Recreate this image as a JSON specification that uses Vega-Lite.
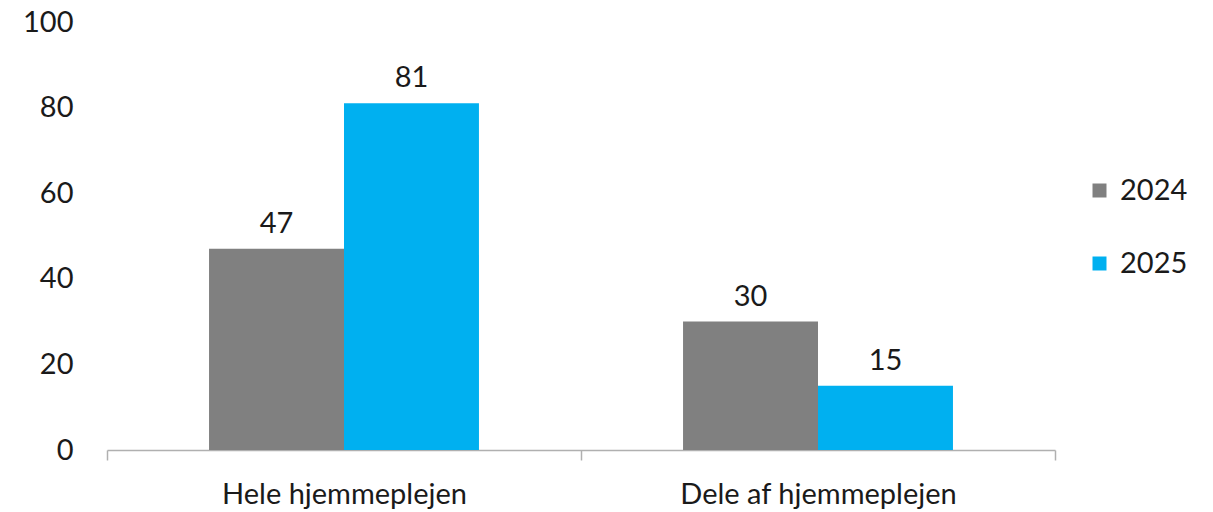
{
  "$schema": "https://vega.github.io/schema/vega-lite/v6.json",
  "width": 948,
  "height": 428,
  "autosize": "none",
  "padding": {"left": 107, "top": 22, "right": 158, "bottom": 62},
  "background": "white",
  "config": {"view": {"stroke": null}, "font": "Lato"},
  "data": {"values": [
    {"kategori": "Hele hjemmeplejen", "år": "2024", "andel": 47},
    {"kategori": "Hele hjemmeplejen", "år": "2025", "andel": 81},
    {"kategori": "Dele af hjemmeplejen", "år": "2024", "andel": 30},
    {"kategori": "Dele af hjemmeplejen", "år": "2025", "andel": 15}
  ]},
  "encoding": {
    "x": {"field": "kategori", "type": "nominal", "sort": ["Hele hjemmeplejen", "Dele af hjemmeplejen"],
      "scale": {"paddingInner": 0, "paddingOuter": 0},
      "axis": {"title": null, "labelAngle": 0, "labelFontSize": 29, "labelColor": "#1a1a1a", "labelPadding": 20, "labelLimit": 0,
        "tickBand": "extent", "tickSize": 10, "tickColor": "#b0b0b0", "domainColor": "#b0b0b0", "domainWidth": 1.5, "tickWidth": 1.5}},
    "xOffset": {"field": "år", "type": "nominal", "scale": {"paddingInner": 0, "paddingOuter": 0.756}},
    "y": {"field": "andel", "type": "quantitative", "scale": {"domain": [0, 100]},
      "axis": {"title": null, "values": [0, 20, 40, 60, 80, 100], "grid": false, "domain": false, "ticks": false,
        "labelFontSize": 29, "labelColor": "#1a1a1a", "labelPadding": 34}}
  },
  "layer": [
    {"mark": {"type": "bar"},
     "encoding": {"color": {"field": "år", "type": "nominal",
        "scale": {"domain": ["2024", "2025"], "range": ["#808080", "#00B0F0"]},
        "legend": {"title": null, "orient": "none", "legendX": 978, "legendY": 154, "symbolType": "square",
          "symbolSize": 196, "labelFontSize": 29, "labelColor": "#1a1a1a", "rowPadding": 43, "labelOffset": 6, "symbolStrokeWidth": 0}}}},
    {"mark": {"type": "text", "baseline": "alphabetic", "dy": -16, "fontSize": 29, "color": "#1a1a1a"},
     "encoding": {"text": {"field": "andel", "type": "quantitative"}}}
  ]
}
